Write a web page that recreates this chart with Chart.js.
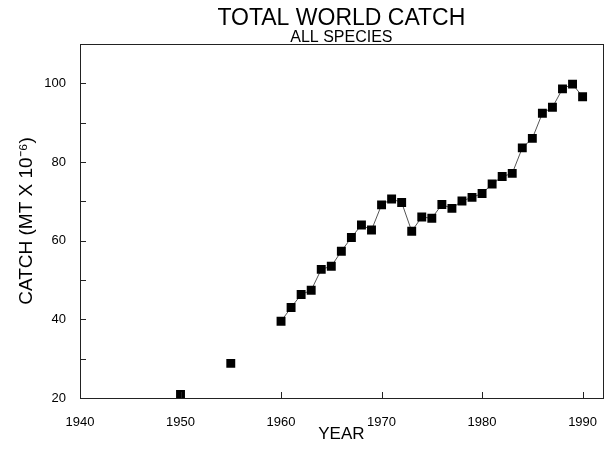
<!DOCTYPE html>
<html>
<head>
<meta charset="utf-8">
<script src="https://cdn.jsdelivr.net/npm/chart.js@4.4.0/dist/chart.umd.min.js"></script>
<style>
  body { margin: 0; background: #fff; }
  #wrap { width: 609px; height: 453px; }
</style>
</head>
<body>
<div id="wrap"><canvas id="catch_chart"></canvas></div>
<script>
// early survey years (not joined by the line)
const earlyYears = [1950, 1955];
const earlyCatch = [20.9, 28.8];

// annual series
const years = [1960, 1961, 1962, 1963, 1964, 1965, 1966, 1967, 1968, 1969,
               1970, 1971, 1972, 1973, 1974, 1975, 1976, 1977, 1978, 1979,
               1980, 1981, 1982, 1983, 1984, 1985, 1986, 1987, 1988, 1989, 1990];
const catchValues = [39.5, 43.0, 46.3, 47.4, 52.7, 53.5, 57.3, 60.8, 64.0, 62.7,
                     69.1, 70.6, 69.7, 62.4, 66.0, 65.7, 69.2, 68.2, 70.1, 71.0,
                     72.0, 74.4, 76.3, 77.1, 83.6, 86.0, 92.4, 93.9, 98.6, 99.8, 96.6];

const xTicks = [1940, 1950, 1960, 1970, 1980, 1990];
const yTicks = [20, 40, 60, 80, 100];
const yMinorTicks = [30, 50, 70, 90];

const FONT = "'Liberation Sans', Arial, sans-serif";

function toPoints(xs, ys){
    let pts = [];
    for (let i = 0; i < xs.length; i++){
        pts.push({x: xs[i], y: ys[i]});
    }
    return pts;
}

// frame round the plot + inward tick marks
const framePlugin = {
    id: "frame",
    afterDraw(chart){
        const ctx = chart.ctx;
        const a = chart.chartArea;
        const xs = chart.scales.x, ys = chart.scales.y;
        ctx.save();
        ctx.strokeStyle = "#222";
        ctx.lineWidth = 1;
        ctx.strokeRect(Math.round(a.left) + 0.5, Math.round(a.top) + 0.5,
                       Math.round(a.right - a.left), Math.round(a.bottom - a.top));
        ctx.beginPath();
        for (let v of yTicks.concat(yMinorTicks)){
            const py = Math.round(ys.getPixelForValue(v)) + 0.5;
            ctx.moveTo(a.left, py);
            ctx.lineTo(a.left + 6, py);
        }
        for (let v of xTicks){
            const px = Math.round(xs.getPixelForValue(v)) + 0.5;
            ctx.moveTo(px, a.bottom);
            ctx.lineTo(px, a.bottom - 6);
        }
        ctx.stroke();
        ctx.restore();
    }
};

new Chart(document.getElementById("catch_chart"), {
    type: "line",
    data: {
        datasets: [
            {
                label: "early",
                data: toPoints(earlyYears, earlyCatch),
                showLine: false,
                pointStyle: "rect",
                pointRadius: 6.3,
                pointBackgroundColor: "#000",
                pointBorderWidth: 0,
            },
            {
                label: "annual",
                data: toPoints(years, catchValues),
                borderColor: "#555",
                borderWidth: 1,
                pointStyle: "rect",
                pointRadius: 6.3,
                pointBackgroundColor: "#000",
                pointBorderWidth: 0,
                tension: 0,
            },
        ],
    },
    options: {
        responsive: true,
        maintainAspectRatio: false,
        animation: false,
        layout: { padding: { left: 0, right: 6, top: 0, bottom: 0 } },
        plugins: {
            legend: { display: false },
            tooltip: { enabled: false },
            title: {
                display: true,
                fullSize: false,
                text: "TOTAL WORLD CATCH",
                color: "#000",
                font: { family: FONT, size: 23, weight: "normal", lineHeight: 1 },
                padding: { top: 7, bottom: 0 },
            },
            subtitle: {
                display: true,
                fullSize: false,
                text: "ALL SPECIES",
                color: "#000",
                font: { family: FONT, size: 16, weight: "normal", lineHeight: 1 },
                padding: { top: 0, bottom: -2 },
            },
        },
        scales: {
            x: {
                type: "linear",
                min: 1940,
                max: 1992,
                afterBuildTicks: (s) => { s.ticks = xTicks.map(v => ({value: v})); },
                afterFit: (s) => { s.height = 55; },
                grid: { display: false },
                border: { display: false },
                ticks: {
                    color: "#000",
                    padding: 9,
                    maxRotation: 0,
                    callback: (v) => String(v),
                    font: { family: FONT, size: 13 },
                },
                title: {
                    display: true,
                    text: "YEAR",
                    color: "#000",
                    font: { family: FONT, size: 17, lineHeight: 1 },
                    padding: { top: 0, bottom: 10 },
                },
            },
            y: {
                min: 20,
                max: 110,
                afterBuildTicks: (s) => { s.ticks = yTicks.map(v => ({value: v})); },
                afterFit: (s) => { s.width = 80; },
                grid: { display: false },
                border: { display: false },
                ticks: {
                    color: "#000",
                    padding: 6,
                    font: { family: FONT, size: 13 },
                },
                title: {
                    display: true,
                    text: "CATCH (MT X 10\u207B\u2076)",
                    color: "#000",
                    font: { family: FONT, size: 19, lineHeight: 1 },
                    padding: { top: 17, bottom: 0 },
                },
            },
        },
    },
    plugins: [framePlugin],
});
</script>
</body>
</html>
